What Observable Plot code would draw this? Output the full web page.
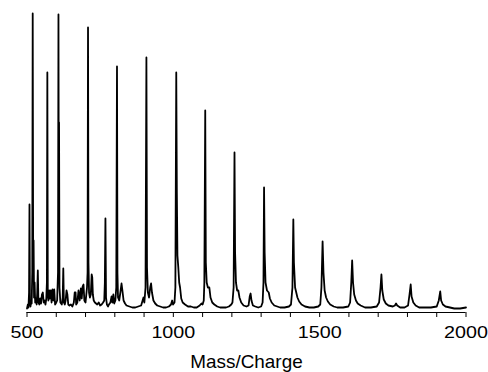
<!DOCTYPE html>
<html>
<head>
<meta charset="utf-8">
<script src="https://cdn.jsdelivr.net/npm/d3@7"></script>
<script src="https://cdn.jsdelivr.net/npm/@observablehq/plot@0.6"></script>
<style>
  html, body { margin: 0; padding: 0; background: #fff; }
</style>
</head>
<body>
<div id="chart"></div>
<script>
// Mass/Charge positions of the spectrum trace
const mz = [
  500, 503, 505, 507, 508.5, 510, 512, 514, 516, 518, 519.5, 521, 522.5, 524, 526, 528, 531, 533, 535, 537,
  539, 542, 545, 548, 551, 554, 557, 560, 563, 566, 568, 569.5, 571, 573, 576, 578, 581, 584, 587, 590,
  593, 596, 600, 603, 606, 607.5, 608.5, 609.5, 611, 614, 619, 622, 624, 626, 629, 632, 635, 638, 641, 645,
  650, 655, 660, 663, 666, 668, 672, 676, 680, 684, 687, 690, 693, 696, 700, 705, 707, 708.5, 710, 712,
  715, 718, 721, 723, 725, 728, 732, 736, 740, 745, 750, 755, 760, 764, 766, 768, 770, 773, 777, 780,
  785, 789, 792, 795, 798, 802, 805, 807.5, 809, 811, 815, 819, 823, 826, 830, 835, 840, 850, 860, 870,
  880, 890, 895, 898, 901, 905, 908, 910, 913, 917, 921, 924, 927, 932, 938, 945, 955, 965, 975, 985,
  992, 996, 999, 1004, 1007, 1010, 1012, 1014, 1017, 1020, 1023, 1027, 1032, 1040, 1050, 1060, 1070, 1080, 1090, 1096,
  1100, 1104, 1106, 1109, 1111, 1114, 1118, 1123, 1127, 1133, 1140, 1150, 1160, 1170, 1180, 1190, 1198, 1202, 1206, 1209,
  1211, 1214, 1218, 1222, 1226, 1232, 1240, 1250, 1257, 1261, 1264, 1267, 1272, 1280, 1290, 1300, 1305, 1308, 1310, 1312,
  1315, 1320, 1326, 1330, 1336, 1345, 1355, 1365, 1380, 1395, 1402, 1407, 1410, 1412, 1416, 1420, 1424, 1430, 1438, 1450,
  1465, 1480, 1495, 1502, 1506, 1510, 1513, 1517, 1522, 1528, 1536, 1548, 1560, 1580, 1598, 1604, 1608, 1611, 1614, 1618,
  1624, 1630, 1640, 1655, 1675, 1695, 1703, 1708, 1711, 1714, 1719, 1726, 1735, 1750, 1757, 1761, 1765, 1775, 1790, 1802,
  1807, 1811, 1814, 1820, 1828, 1840, 1860, 1880, 1900, 1907, 1912, 1915, 1921, 1930, 1945, 1960, 1980, 2000
];
// Intensity (arbitrary units) at each position
const intensity = [
  4, 8, 5, 20, 108, 10, 6, 12, 9, 40, 299, 60, 72, 15, 30, 10, 14, 8, 20, 42,
  10, 8, 14, 9, 18, 20, 10, 12, 8, 14, 30, 240, 20, 12, 22, 14, 22, 10, 23, 12,
  23, 8, 10, 12, 40, 298, 120, 190, 25, 10, 8, 15, 44, 10, 8, 12, 22, 18, 8, 7,
  8, 6, 10, 20, 20, 8, 10, 22, 12, 24, 14, 26, 28, 12, 10, 25, 40, 285, 50, 20,
  15, 18, 38, 35, 18, 12, 10, 9, 8, 10, 7, 8, 10, 12, 30, 94, 15, 8, 6, 8,
  10, 16, 10, 18, 9, 12, 25, 246, 40, 15, 12, 20, 29, 22, 12, 9, 7, 6, 5, 5,
  6, 7, 12, 15, 10, 25, 255, 45, 20, 15, 25, 29, 20, 12, 9, 7, 6, 5, 5, 6,
  8, 12, 8, 10, 25, 240, 120, 57, 45, 30, 25, 14, 10, 8, 6, 6, 5, 5, 7, 9,
  8, 12, 30, 202, 50, 30, 25, 25, 15, 10, 8, 6, 5, 5, 5, 6, 8, 10, 25, 160,
  60, 30, 22, 22, 15, 10, 7, 6, 7, 16, 19, 12, 7, 6, 5, 6, 10, 30, 125, 60,
  30, 22, 20, 14, 10, 7, 6, 5, 5, 6, 8, 25, 93, 50, 25, 20, 15, 11, 8, 6,
  5, 5, 6, 8, 25, 71, 40, 22, 15, 11, 8, 6, 5, 5, 6, 10, 30, 52, 30, 18,
  12, 9, 7, 5, 5, 6, 10, 25, 38, 22, 13, 9, 7, 6, 7, 9, 7, 5, 5, 7,
  18, 28, 16, 10, 7, 5, 5, 5, 6, 12, 21, 12, 8, 6, 5, 4, 4, 5
];
const minorTicks = [500, 600, 700, 800, 900, 1000, 1100, 1200, 1300, 1400, 1500, 1600, 1700, 1800, 1900, 2000];
const tickLabels = [500, 1000, 1500, 2000];
const axisLabel = "Mass/Charge";

const spectrum = mz.map((m, i) => ({m, v: intensity[i]}));

const chart = Plot.plot({
  width: 488,
  height: 372,
  marginLeft: 26.5,
  marginRight: 22.5,
  marginTop: 12,
  marginBottom: 60,
  style: {fontFamily: "'Liberation Sans', Arial, sans-serif", background: "#fff", color: "#000"},
  x: {domain: [500, 2000]},
  y: {domain: [0, 300], axis: null},
  marks: [
    Plot.line(spectrum, {x: "m", y: "v", stroke: "#000", strokeWidth: 1.8, strokeLinejoin: "round"}),
    Plot.ruleY([0], {stroke: "#000", strokeWidth: 1}),
    Plot.axisX(minorTicks, {
      label: null,
      tickSize: 5,
      tickPadding: 8,
      fontSize: 17,
      stroke: "#000",
      fill: "#000",
      tickFormat: d => tickLabels.includes(d) ? String(d) : ""
    }),
    Plot.text([axisLabel], {frameAnchor: "bottom", lineAnchor: "top", dy: 43, fontSize: 18, fill: "#000"})
  ]
});

// horizontally stretch text like the reference
chart.querySelectorAll("g[aria-label='x-axis tick label'] text").forEach(t => {
  const tr = t.getAttribute("transform") || "";
  t.setAttribute("transform", tr + " scale(1.16,1)");
});
chart.querySelectorAll("g[aria-label='text'] text").forEach(t => {
  const tr = t.getAttribute("transform") || "";
  t.setAttribute("transform", tr + " scale(1.05,1)");
});

document.getElementById("chart").appendChild(chart);
</script>
</body>
</html>
